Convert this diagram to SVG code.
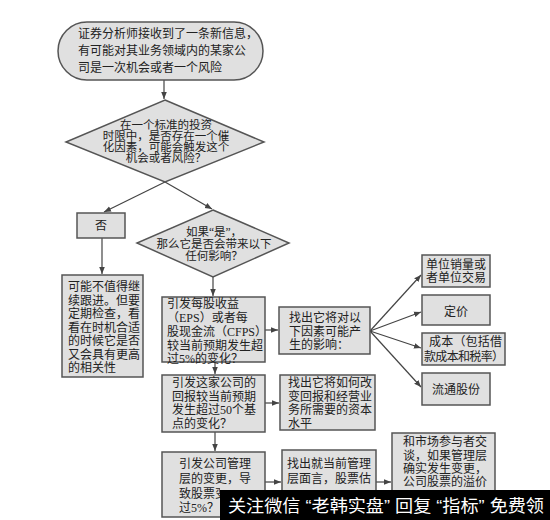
<svg xmlns="http://www.w3.org/2000/svg" width="550" height="520" viewBox="0 0 550 520">
<style>
.n{fill:#e0e0e0;stroke:#555;stroke-width:1.5}
.t{font-family:"Liberation Serif","Noto Sans CJK SC",serif;font-size:12px;fill:#222}
.d{font-size:11.5px}
.c{stroke:#444;stroke-width:1.2;fill:none;marker-end:url(#ah)}
.wm{font-family:"Liberation Sans","Noto Sans CJK SC",sans-serif;font-size:17px;fill:#fff}
</style>
<defs>
<marker id="ah" viewBox="0 0 10 10" refX="10" refY="5" markerWidth="7" markerHeight="7" orient="auto" markerUnits="userSpaceOnUse">
<path d="M0,1 L10,5 L0,9 z" fill="#444"/>
</marker>
<clipPath id="wmclip"><rect x="0" y="0" width="220" height="520"/></clipPath>
</defs>
<rect width="550" height="520" fill="#fff"/>
<g id="connectors">
<line class="c" x1="164" y1="80" x2="164" y2="99"/>
<line class="c" x1="165" y1="182" x2="104" y2="212"/>
<line class="c" x1="165" y1="182" x2="212" y2="209"/>
<line class="c" x1="102" y1="238" x2="102" y2="274"/>
<line class="c" x1="213" y1="277" x2="213" y2="296"/>
<line class="c" x1="265" y1="330" x2="278" y2="330"/>
<line class="c" x1="370" y1="331" x2="421" y2="275"/>
<line class="c" x1="370" y1="331" x2="421" y2="312"/>
<line class="c" x1="370" y1="331" x2="421" y2="348"/>
<line class="c" x1="370" y1="331" x2="421" y2="387"/>
<line class="c" x1="215" y1="362" x2="215" y2="374"/>
<line class="c" x1="265" y1="403" x2="279" y2="403"/>
<line class="c" x1="215" y1="432" x2="215" y2="451"/>
<line class="c" x1="265" y1="482" x2="281" y2="482"/>
<line class="c" x1="376" y1="482" x2="391" y2="482"/>
</g>
<g id="start">
<rect class="n" x="58" y="22" width="205" height="58" rx="29"/>
<text class="t" x="78" y="38">证券分析师接收到了一条新信息，</text>
<text class="t" x="78" y="55">有可能对其业务领域内的某家公</text>
<text class="t" x="78" y="72">司是一次机会或者一个风险</text>
</g>
<g id="decision1">
<polygon class="n" points="165,100 264,142 165,182 66,142"/>
<text class="t d" text-anchor="middle" x="166" y="129">在一个标准的投资</text>
<text class="t d" text-anchor="middle" x="166" y="140">时限中，是否存在一个催</text>
<text class="t d" text-anchor="middle" x="166" y="151">化因素，可能会触发这个</text>
<text class="t d" text-anchor="middle" x="166" y="162">机会或者风险？</text>
</g>
<g id="no">
<rect class="n" x="77" y="213" width="48" height="25"/>
<text class="t" text-anchor="middle" x="101" y="230">否</text>
</g>
<g id="no-detail">
<rect class="n" x="62" y="275" width="81" height="102"/>
<text class="t" x="68" y="291">可能不值得继</text>
<text class="t" x="68" y="305">续跟进。但要</text>
<text class="t" x="68" y="318">定期检查，看</text>
<text class="t" x="68" y="332">看在时机合适</text>
<text class="t" x="68" y="345">的时候它是否</text>
<text class="t" x="68" y="359">又会具有更高</text>
<text class="t" x="68" y="372">的相关性</text>
</g>
<g id="decision2">
<polygon class="n" points="213,210 289,243 213,277 137,243"/>
<text class="t d" text-anchor="middle" x="214" y="236">如果“是”，</text>
<text class="t d" text-anchor="middle" x="214" y="248">那么它是否会带来以下</text>
<text class="t d" text-anchor="middle" x="214" y="260">任何影响？</text>
</g>
<g id="eps">
<rect class="n" x="162" y="297" width="103" height="65"/>
<text class="t" x="167" y="308">引发每股收益</text>
<text class="t" x="167" y="322">（EPS）或者每</text>
<text class="t" x="167" y="336">股现金流（CFPS）</text>
<text class="t" x="167" y="350">较当前预期发生超</text>
<text class="t" x="167" y="363">过5%的变化？</text>
</g>
<g id="factors">
<rect class="n" x="279" y="307" width="91" height="47"/>
<text class="t" x="289" y="322">找出它将对以</text>
<text class="t" x="289" y="335.5">下因素可能产</text>
<text class="t" x="289" y="349">生的影响：</text>
</g>
<g id="f1">
<rect class="n" x="422" y="255" width="68" height="32"/>
<text class="t" text-anchor="middle" x="456" y="269">单位销量或</text>
<text class="t" text-anchor="middle" x="456" y="282">者单位交易</text>
</g>
<g id="f2">
<rect class="n" x="422" y="295" width="68" height="30"/>
<text class="t" text-anchor="middle" x="456" y="316">定价</text>
</g>
<g id="f3">
<rect class="n" x="422" y="333" width="83" height="32"/>
<text class="t" x="429" y="346" textLength="73">成本（包括借</text>
<text class="t" x="424" y="361" textLength="80">款成本和税率）</text>
</g>
<g id="f4">
<rect class="n" x="422" y="373" width="68" height="32"/>
<text class="t" text-anchor="middle" x="456" y="394">流通股份</text>
</g>
<g id="returns">
<rect class="n" x="162" y="375" width="103" height="57"/>
<text class="t" x="172" y="387">引发这家公司的</text>
<text class="t" x="172" y="400.5">回报较当前预期</text>
<text class="t" x="172" y="414">发生超过50个基</text>
<text class="t" x="172" y="427.5">点的变化？</text>
</g>
<g id="capital">
<rect class="n" x="280" y="375" width="95" height="55"/>
<text class="t" x="288" y="387">找出它将如何改</text>
<text class="t" x="288" y="400.5">变回报和经营业</text>
<text class="t" x="288" y="414">务所需要的资本</text>
<text class="t" x="288" y="427.5">水平</text>
</g>
<g id="mgmt">
<rect class="n" x="162" y="452" width="103" height="65"/>
<text class="t" x="179" y="468">引发公司管理</text>
<text class="t" x="179" y="483">层的变更，导</text>
<text class="t" x="179" y="498" clip-path="url(#wmclip)">致股票变动超</text>
<text class="t" x="179" y="512">过5%？</text>
</g>
<g id="premium">
<rect class="n" x="282" y="450" width="94" height="67"/>
<text class="t" x="287" y="468">找出就当前管理</text>
<text class="t" x="287" y="483">层面言，股票估</text>
</g>
<g id="talk">
<rect class="n" x="392" y="433" width="103" height="84"/>
<text class="t" x="403" y="446">和市场参与者交</text>
<text class="t" x="403" y="460">谈，如果管理层</text>
<text class="t" x="403" y="473">确实发生变更，</text>
<text class="t" x="403" y="486">公司股票的溢价</text>
</g>
<g id="watermark">
<rect x="220" y="490" width="330" height="30" fill="#000"/>
<text class="wm" x="228" y="512" textLength="316" lengthAdjust="spacingAndGlyphs">关注微信 “老韩实盘” 回复 “指标” 免费领</text>
</g>
</svg>
